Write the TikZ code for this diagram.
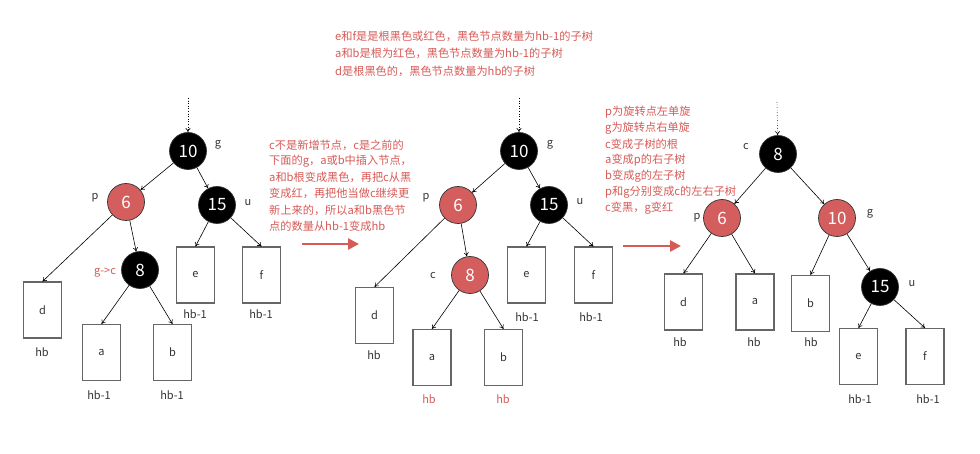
\documentclass[tikz,border=0pt]{standalone}
\usepackage{fontspec}
\setmainfont{Noto Sans CJK SC}
\usetikzlibrary{arrows.meta}
\definecolor{rbfill}{HTML}{D45E5E}
\definecolor{rbtext}{HTML}{D65A56}
\definecolor{ink}{HTML}{333333}
\begin{document}
\begin{tikzpicture}[x=1pt,y=-1pt,
  blk/.style={circle,draw=ink,line width=0.7pt,fill=black,minimum size=37pt,inner sep=0pt,text=white,font=\fontsize{17}{20}\selectfont},
  redn/.style={blk,fill=rbfill},
  sub/.style={draw=black!60,line width=1.1pt,minimum width=38pt,minimum height=56pt,inner sep=0pt,text=ink,font=\fontsize{11}{13}\selectfont},
  lbl/.style={text=ink,font=\fontsize{11}{13}\selectfont,inner sep=0pt},
  rlbl/.style={lbl,text=rbtext},
  note/.style={text=rbtext,font=\fontsize{11.2}{13}\selectfont,inner sep=0pt,anchor=west},
  edge/.style={draw=black,line width=0.6pt,-{To[length=4pt,width=5pt]}},
  dotedge/.style={edge,dotted},
  bigarrow/.style={draw=rbtext,line width=2.6pt,-{Triangle[length=11pt,width=11pt]}}]
\useasboundingbox (0,0) rectangle (980,454);

% ---------- left tree ----------
\coordinate (Ltop) at (188,98);
\node[blk]  (L10) at (188,151) {10};
\node[redn] (L6)  at (126,202) {6};
\node[blk]  (L15) at (217,205) {15};
\node[blk]  (L8)  at (140,270) {8};
\node[sub] (Ld) at (42.5,310) {d};
\node[sub] (La) at (101.5,352.5) {a};
\node[sub] (Lb) at (172.5,352.5) {b};
\node[sub] (Le) at (195.5,275) {e};
\node[sub] (Lf) at (261.5,275) {f};
\node[lbl] (Lg) at (218,145) {g};
\node[lbl] (Lp) at (95,198) {p};
\node[lbl] (Lu) at (248,203) {u};
\node[rlbl] (Lgc) at (105,273) {g->c};
\node[lbl] (Lhd) at (42,352) {hb};
\node[lbl] (Lha) at (99,395) {hb-1};
\node[lbl] (Lhb) at (172,395) {hb-1};
\node[lbl] (Lhe) at (195,314) {hb-1};
\node[lbl] (Lhf) at (261,314) {hb-1};
\draw[dotedge] (Ltop) -- (L10);
\draw[edge] (L10) -- (L6);
\draw[edge] (L10) -- (L15);
\draw[edge] (L6) -- (Ld.north);
\draw[edge] (L6) -- (L8);
\draw[edge] (L8) -- (La.north);
\draw[edge] (L8) -- (Lb.north);
\draw[edge] (L15) -- (Le.north);
\draw[edge] (L15) -- (Lf.north);

% ---------- middle note and arrow ----------
\node[note] (m1) at (269,145) {c不是新增节点，c是之前的};
\node[note] (m2) at (269,161) {下面的g，a或b中插入节点，};
\node[note] (m3) at (269,177) {a和b根变成黑色，再把c从黑};
\node[note] (m4) at (269,193) {变成红，再把他当做c继续更};
\node[note] (m5) at (269,210) {新上来的，所以a和b黑色节};
\node[note] (m6) at (269,226) {点的数量从hb-1变成hb};
\coordinate (A1s) at (302,244);
\coordinate (A1e) at (359,244);
\draw[bigarrow] (A1s) -- (A1e);

% ---------- top note ----------
\node[note] (t1) at (335,36) {e和f是是根黑色或红色，黑色节点数量为hb-1的子树};
\node[note] (t2) at (335,53) {a和b是根为红色，黑色节点数量为hb-1的子树};
\node[note] (t3) at (335,71) {d是根黑色的，黑色节点数量为hb的子树};

% ---------- middle tree ----------
\coordinate (Mtop) at (519,98);
\node[blk]  (M10) at (519,151) {10};
\node[redn] (M6)  at (458,205) {6};
\node[blk]  (M15) at (549,205) {15};
\node[redn] (M8)  at (470,275) {8};
\node[sub] (Md) at (374.5,315.5) {d};
\node[sub] (Ma) at (432,357.5) {a};
\node[sub] (Mb) at (503.5,357.5) {b};
\node[sub] (Me) at (526.5,275) {e};
\node[sub] (Mf) at (593.5,275) {f};
\node[lbl] (Mg) at (550,145) {g};
\node[lbl] (Mp) at (426,198) {p};
\node[lbl] (Mu) at (580,202) {u};
\node[lbl] (Mc) at (433,276) {c};
\node[lbl] (Mhd) at (374,355) {hb};
\node[rlbl] (Mha) at (429,399) {hb};
\node[rlbl] (Mhb) at (503,399) {hb};
\node[lbl] (Mhe) at (527,317) {hb-1};
\node[lbl] (Mhf) at (591,317) {hb-1};
\draw[dotedge] (Mtop) -- (M10);
\draw[edge] (M10) -- (M6);
\draw[edge] (M10) -- (M15);
\draw[edge] (M6) -- (Md.north);
\draw[edge] (M6) -- (M8);
\draw[edge] (M8) -- (Ma.north);
\draw[edge] (M8) -- (Mb.north);
\draw[edge] (M15) -- (Me.north);
\draw[edge] (M15) -- (Mf.north);

% ---------- right note and arrow ----------
\node[note] (r1) at (605,112) {p为旋转点左单旋};
\node[note] (r2) at (605,128) {g为旋转点右单旋};
\node[note] (r3) at (605,144) {c变成子树的根};
\node[note] (r4) at (605,160) {a变成p的右子树};
\node[note] (r5) at (605,176) {b变成g的左子树};
\node[note] (r6) at (605,192) {p和g分别变成c的左右子树};
\node[note] (r7) at (605,208) {c变黑，g变红};
\coordinate (A2s) at (623,246);
\coordinate (A2e) at (681,246);
\draw[bigarrow] (A2s) -- (A2e);

% ---------- right tree ----------
\coordinate (Rtop) at (777,102);
\node[blk]  (R8)  at (778,154) {8};
\node[redn] (R6)  at (722,218) {6};
\node[redn] (R10) at (837,218) {10};
\node[blk]  (R15) at (880,287) {15};
\node[sub] (Rd) at (683.5,302) {d};
\node[sub] (Ra) at (755,302) {a};
\node[sub] (Rb) at (810.5,303.5) {b};
\node[sub] (Re) at (858.5,356.5) {e};
\node[sub] (Rf) at (925,356.5) {f};
\node[lbl] (Rc) at (746,147) {c};
\node[lbl] (Rp) at (697,218) {p};
\node[lbl] (Rg) at (870,214) {g};
\node[lbl] (Ru) at (912,284) {u};
\node[lbl] (Rhd) at (680,342) {hb};
\node[lbl] (Rha) at (754,342) {hb};
\node[lbl] (Rhb) at (811,342) {hb};
\node[lbl] (Rhe) at (860,399) {hb-1};
\node[lbl] (Rhf) at (928,399) {hb-1};
\draw[dotedge] (Rtop) -- (R8);
\draw[edge] (R8) -- (R6);
\draw[edge] (R8) -- (R10);
\draw[edge] (R6) -- (Rd.north);
\draw[edge] (R6) -- (Ra.north);
\draw[edge] (R10) -- (Rb.north);
\draw[edge] (R10) -- (R15);
\draw[edge] (R15) -- (Re.north);
\draw[edge] (R15) -- (Rf.north);
\end{tikzpicture}
\end{document}
